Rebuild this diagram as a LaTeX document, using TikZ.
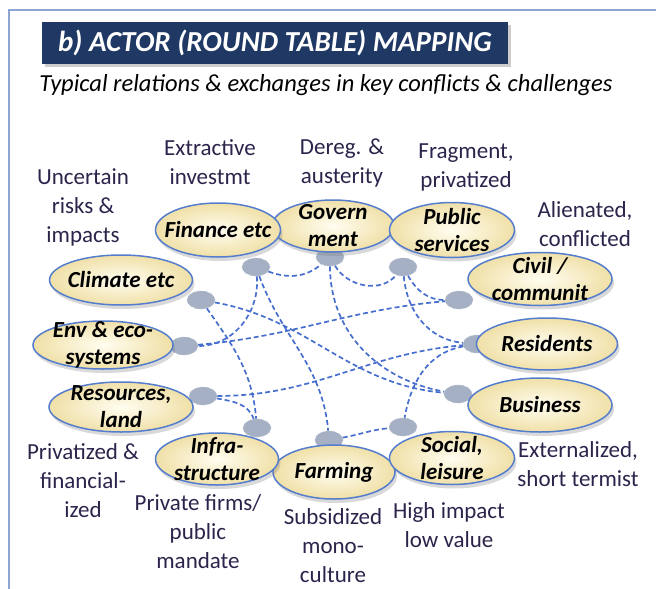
\documentclass[tikz,border=0pt]{standalone}
\usepackage{fontspec}
\setmainfont{Carlito}
\usetikzlibrary{shapes.geometric,shadows}
\definecolor{BannerNavy}{RGB}{31,56,100}
\definecolor{LinkBlue}{RGB}{70,110,205}
\definecolor{DotGrey}{RGB}{165,176,196}
\definecolor{DotEdge}{RGB}{190,197,210}
\definecolor{ActorEdge}{RGB}{85,125,205}
\definecolor{CreamIn}{RGB}{255,253,240}
\definecolor{CreamOut}{RGB}{240,224,168}
\definecolor{NoteInk}{RGB}{45,35,75}
\definecolor{FrameBlue}{RGB}{140,165,210}
\tikzset{ActorNode/.style 2 args={ellipse,draw=ActorEdge,line width=1.5pt,inner color=CreamIn,outer color=CreamOut,inner sep=0pt,minimum width=#1,minimum height=#2,drop shadow={shadow xshift=2pt,shadow yshift=-4pt,opacity=0.3}}}
\tikzset{ActorText/.style={font=\fontsize{23}{27}\selectfont\bfseries\itshape,align=center,inner sep=0pt}}
\tikzset{ActorDot/.style={ellipse,fill=DotGrey,draw=DotEdge,dashed,line width=0.6pt,minimum width=28pt,minimum height=18pt,inner sep=0pt}}
\tikzset{ActorLink/.style={draw=LinkBlue,dash pattern=on 5pt off 3pt,line width=1.7pt}}
\tikzset{NoteText/.style={font=\fontsize{23}{29}\selectfont,text=NoteInk,align=center,inner sep=0pt}}

\begin{document}
\begin{tikzpicture}[x=1pt,y=-1pt]
\useasboundingbox (0,0) rectangle (656,589);
\draw [FrameBlue,line width=1.2pt] (9,589) -- (9,10) -- (656,10);
\node (title) at (275,43) [fill=BannerNavy,minimum width=466pt,minimum height=42pt,inner sep=0pt,text=white,font=\fontsize{29}{30}\selectfont\bfseries\itshape,drop shadow={shadow xshift=3pt,shadow yshift=-3pt,opacity=0.4}] {b) ACTOR (ROUND TABLE) MAPPING};
\node (sub) at (326,85) [font=\fontsize{24.5}{26}\selectfont\itshape,text=black,inner sep=0pt] {Typical relations \& exchanges in key conflicts \& challenges};
\node (dfin) at (256,267) [ActorDot] {};
\node (dgov) at (330,257) [ActorDot] {};
\node (dpub) at (403,267) [ActorDot] {};
\node (dciv) at (459,300) [ActorDot] {};
\node (dcli) at (201,300) [ActorDot] {};
\node (denv) at (184,346) [ActorDot] {};
\node (dland) at (203,396) [ActorDot] {};
\node (dinf) at (257,428) [ActorDot] {};
\node (dfar) at (329,440) [ActorDot] {};
\node (dsoc) at (403,427) [ActorDot] {};
\node (dbus) at (458,394) [ActorDot] {};
\node (dresid) at (477,344) [ActorDot] {};
\draw [ActorLink] (dfin) to[out=-20,in=-140] (dgov);
\draw [ActorLink] (dgov) to[out=-60,in=-130] (dpub);
\draw [ActorLink] (dpub) to[out=-60,in=180] (dciv);
\draw [ActorLink] (dfin) to[out=-85,in=0] (denv);
\draw [ActorLink] (dfin) to[out=-70,in=95] (dfar);
\draw [ActorLink] (dgov) to[out=-90,in=170] (dbus);
\draw [ActorLink] (dcli) to[out=-10,in=175] (dbus);
\draw [ActorLink] (dcli) to[out=-55,in=95] (dinf);
\draw [ActorLink] (denv) to[out=5,in=185] (dciv);
\draw [ActorLink] (dland) to[out=0,in=185] (dresid);
\draw [ActorLink] (dland) to[out=-10,in=110] (dinf);
\draw [ActorLink] (dpub) to[out=-85,in=175] (dresid);
\draw [ActorLink] (dresid) to[out=190,in=80] (dsoc);
\draw [ActorLink] (dfar) to[out=10,in=185] (dsoc);
\node (gov) at (333,226) [ActorNode={122pt}{52pt},label={[ActorText]center:{Govern\\ment}}] {};
\node (fin) at (218,230) [ActorNode={125pt}{54pt},label={[ActorText]center:Finance etc}] {};
\node (pub) at (452,230) [ActorNode={125pt}{55pt},label={[ActorText]center:{Public\\services}}] {};
\node (civ) at (540,279) [ActorNode={144pt}{53pt},label={[ActorText]center:{Civil /\\communit}}] {};
\node (cli) at (121,280) [ActorNode={143pt}{50pt},label={[ActorText]center:Climate etc}] {};
\node (env) at (103,345) [ActorNode={140pt}{48pt},label={[ActorText]center:{Env \& eco-\\systems}}] {};
\node (land) at (121,407) [ActorNode={144pt}{50pt},label={[ActorText]center:{Resources,\\land}}] {};
\node (farm) at (334,472) [ActorNode={122pt}{54pt},label={[ActorText]center:Farming}] {};
\node (infra) at (217,459) [ActorNode={123pt}{52pt},label={[ActorText]center:{Infra-\\structure}}] {};
\node (soc) at (452,458) [ActorNode={125pt}{53pt},label={[ActorText]center:{Social,\\leisure}}] {};
\node (bus) at (540,405) [ActorNode={144pt}{54pt},label={[ActorText]center:Business}] {};
\node (resid) at (547,344) [ActorNode={141pt}{52pt},label={[ActorText]center:Residents}] {};
\node (nunc) at (83,207) [NoteText] {Uncertain\\risks \&\\impacts};
\node (nextr) at (210,162) [NoteText] {Extractive\\investmt};
\node (ndereg) at (342,163) [NoteText] {Dereg. \&\\austerity};
\node (nfrag) at (466,167) [NoteText] {Fragment,\\privatized};
\node (nalien) at (585,224) [NoteText] {Alienated,\\conflicted};
\node (npriv) at (83,481) [NoteText] {Privatized \&\\financial-\\ized};
\node (nfirm) at (198,532) [NoteText] {Private firms/\\public\\mandate};
\node (nsubs) at (333,546) [NoteText] {Subsidized\\mono-\\culture};
\node (nhigh) at (449,525) [NoteText] {High impact\\low value};
\node (nexter) at (578,464) [NoteText] {Externalized,\\short termist};
\end{tikzpicture}
\end{document}
